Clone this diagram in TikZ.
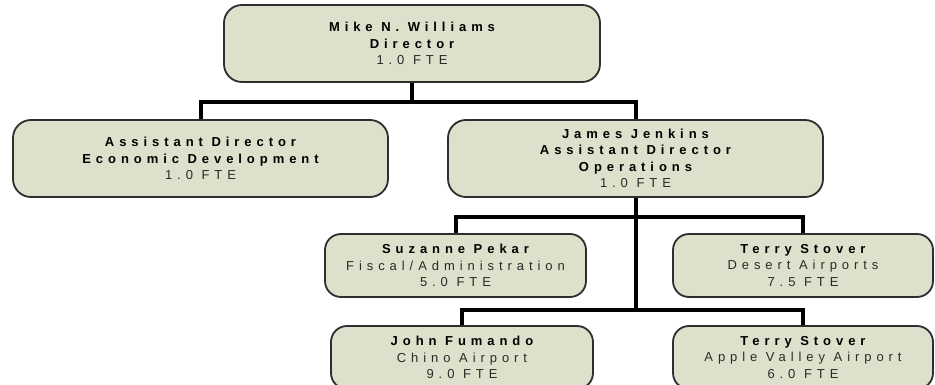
\documentclass[tikz,border=0pt]{standalone}
\usepackage{fontspec}
\setmainfont{Liberation Sans}[LetterSpace=38]
\definecolor{boxfill}{HTML}{DDE0CB}
\definecolor{boxline}{HTML}{2E2E2E}
\definecolor{txtgray}{HTML}{2A2A2A}
\tikzset{
  orgbox/.style={draw=boxline, line width=1.8pt, fill=boxfill, inner sep=0pt,
    align=center, text=txtgray, font=\fontsize{13}{16.5}\selectfont},
  bigbox/.style={orgbox, rounded corners=18pt, minimum width=375pt, minimum height=77pt},
  smallbox/.style={orgbox, rounded corners=16pt, minimum height=63pt},
  conn/.style={draw=black, line width=4pt}
}
\newcommand{\nm}[1]{{\bfseries\color{black}#1}}
\begin{document}
\begin{tikzpicture}[x=1pt,y=-1pt]
\useasboundingbox (0,0) rectangle (935,385);
\fill[white] (0,0) rectangle (935,385);
\coordinate (b1) at (412,102);
\coordinate (b2) at (635.5,217);
\coordinate (b3) at (635.5,310);
\node[bigbox, minimum width=376pt] (top) at (412,43.5) {\nm{Mike N. Williams}\\\nm{Director}\\1.0 FTE};
\node[bigbox] (ad) at (200.5,158.5) {\nm{Assistant Director}\\\nm{Economic Development}\\1.0 FTE};
\node[bigbox] (jj) at (635.5,158.5) {\nm{James Jenkins}\\\nm{Assistant Director}\\\nm{Operations}\\1.0 FTE};
\node[smallbox, minimum width=261pt] (sp) at (455.5,265.5) {\nm{Suzanne Pekar}\\Fiscal/Administration\\5.0 FTE};
\node[smallbox, minimum width=260pt] (ts1) at (803,265.5) {\nm{Terry Stover}\\Desert Airports\\7.5 FTE};
\node[smallbox, minimum width=262pt] (jf) at (462,357.5) {\nm{John Fumando}\\Chino Airport\\9.0 FTE};
\node[smallbox, minimum width=260pt] (ts2) at (803,357.5) {\nm{Terry Stover}\\Apple Valley Airport\\6.0 FTE};
\draw[conn] (top.south) -- (b1);
\draw[conn] (ad.north) |- (b1) -| (jj.north);
\draw[conn] (jj.south) -- (b3);
\draw[conn] (sp.north) |- (b2) -| (ts1.north);
\draw[conn] (jf.north) |- (b3) -| (ts2.north);
\end{tikzpicture}
\end{document}
